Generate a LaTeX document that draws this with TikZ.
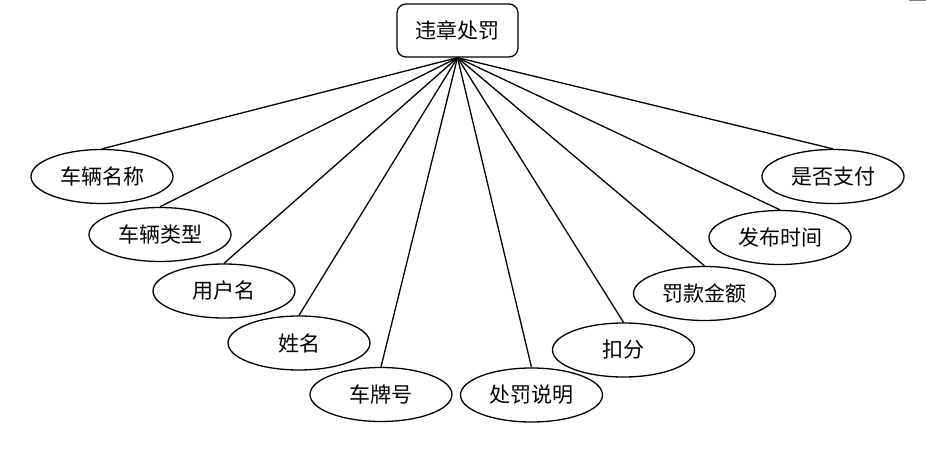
\documentclass[tikz,border=0pt]{standalone}
\usepackage{fontspec}
\newfontfamily\cjk{Noto Sans CJK SC}
\usetikzlibrary{shapes.geometric}
\begin{document}
\begin{tikzpicture}[x=1pt,y=-1pt,
  attr/.style={ellipse,draw,line width=1.3pt,minimum width=142pt,minimum height=54pt,inner sep=0pt,font=\cjk\fontsize{21}{23}\selectfont},
  rootbox/.style={rectangle,rounded corners=9pt,draw,line width=1.3pt,minimum width=121pt,minimum height=53pt,inner sep=0pt,font=\cjk\fontsize{21}{23}\selectfont},
  link/.style={line width=1.3pt}]
\useasboundingbox (0,0) rectangle (926,462);
\node[rootbox] (root) at (457.5,30.5) {违章处罚};
\node[attr] (a1) at (102,176.5) {车辆名称};
\node[attr] (a2) at (160,234.5) {车辆类型};
\node[attr] (a3) at (224,291) {用户名};
\node[attr] (a4) at (299,343) {姓名};
\node[attr] (a5) at (381,394.5) {车牌号};
\node[attr] (a6) at (531.5,395) {处罚说明};
\node[attr] (a7) at (623.5,350) {扣分};
\node[attr] (a8) at (704.5,293.5) {罚款金额};
\node[attr] (a9) at (780,237.5) {发布时间};
\node[attr] (a10) at (833,176.5) {是否支付};
\foreach \i in {1,...,10} \draw[link] (root.south) -- (a\i.north);
\coordinate (g1) at (909,0.5);
\coordinate (g2) at (926,0.5);
\draw[gray,line width=1pt] (g1) -- (g2);
\end{tikzpicture}
\end{document}
